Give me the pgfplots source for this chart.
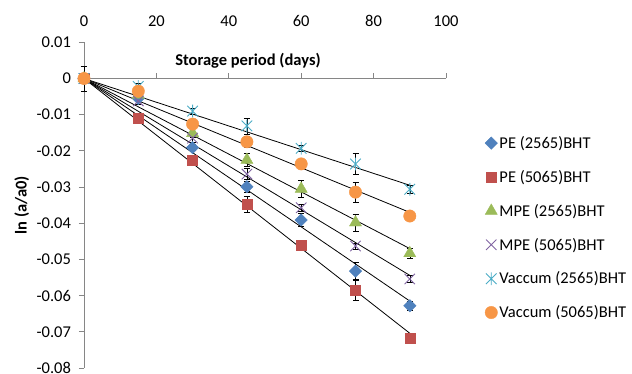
\documentclass[border=0pt]{standalone}
\usepackage{pgfplots}
\pgfplotsset{compat=1.18}
\usepackage{fontspec}
\setmainfont{Carlito}
\definecolor{cblue}{HTML}{4F81BD}
\definecolor{cred}{HTML}{C0504D}
\definecolor{cgreen}{HTML}{9BBB59}
\definecolor{cpurple}{HTML}{8064A2}
\definecolor{caqua}{HTML}{4BACC6}
\definecolor{corange}{HTML}{F79646}
\definecolor{axgray}{HTML}{868686}
\pgfdeclareplotmark{xstar}{%
 \pgfpathmoveto{\pgfqpoint{-\pgfplotmarksize}{-\pgfplotmarksize}}%
 \pgfpathlineto{\pgfqpoint{\pgfplotmarksize}{\pgfplotmarksize}}%
 \pgfpathmoveto{\pgfqpoint{-\pgfplotmarksize}{\pgfplotmarksize}}%
 \pgfpathlineto{\pgfqpoint{\pgfplotmarksize}{-\pgfplotmarksize}}%
 \pgfpathmoveto{\pgfqpoint{0pt}{-1.2\pgfplotmarksize}}%
 \pgfpathlineto{\pgfqpoint{0pt}{1.2\pgfplotmarksize}}%
 \pgfusepathqstroke}
\pgfdeclareplotmark{bigx}{%
 \pgfpathmoveto{\pgfqpoint{-\pgfplotmarksize}{-\pgfplotmarksize}}%
 \pgfpathlineto{\pgfqpoint{\pgfplotmarksize}{\pgfplotmarksize}}%
 \pgfpathmoveto{\pgfqpoint{-\pgfplotmarksize}{\pgfplotmarksize}}%
 \pgfpathlineto{\pgfqpoint{\pgfplotmarksize}{-\pgfplotmarksize}}%
 \pgfusepathqstroke}

\pgfplotstableread{
x y e
0 0 0.0035
15 -0.0055 0
30 -0.0191 0.0008
45 -0.0299 0.0015
60 -0.0391 0.0018
75 -0.0532 0.0025
90 -0.0628 0.0013
}\peA
\pgfplotstableread{
x y e
0 0 0
15 -0.0110 0.0008
30 -0.0227 0.0008
45 -0.0348 0.0022
60 -0.0460 0.0005
75 -0.0584 0.0028
90 -0.0718 0.0012
}\peB
\pgfplotstableread{
x y e
0 0 0
15 -0.0045 0
30 -0.0151 0.0012
45 -0.0225 0.0018
60 -0.0305 0.0023
75 -0.0398 0.0023
90 -0.0483 0.0015
}\mpeA
\pgfplotstableread{
x y e
0 0 0
15 -0.0062 0.0008
30 -0.0165 0.0010
45 -0.0264 0.0015
60 -0.0357 0.0010
75 -0.0463 0.0008
90 -0.0554 0.0010
}\mpeB
\pgfplotstableread{
x y e
0 0 0
15 -0.0022 0.0010
30 -0.0090 0.0008
45 -0.0131 0.0022
60 -0.0193 0.0008
75 -0.0236 0.0028
90 -0.0306 0.0012
}\vacA
\pgfplotstableread{
x y e
0 0 0
15 -0.0035 0.0010
30 -0.0126 0.0010
45 -0.0175 0.0015
60 -0.0236 0.0008
75 -0.0314 0.0028
90 -0.0380 0.0008
}\vacB

\begin{document}
\begin{tikzpicture}[font=\fontsize{16.5}{19}\selectfont]
\begin{axis}[
  scale only axis,
  width=362pt, height=325.7pt,
  xmin=0, xmax=100, ymin=-0.08, ymax=0.01,
  scaled y ticks=false, scaled x ticks=false,
  axis x line*=top, axis y line*=left,
  x axis line style={draw=none},
  y axis line style={axgray, line width=0.8pt, -},
  xtick={0,20,40,60,80,100},
  xticklabels={0,20,40,60,80,100},
  xtick style={draw=none},
  xticklabel style={anchor=base, yshift=10.5pt},
  ytick={-0.08,-0.07,-0.06,-0.05,-0.04,-0.03,-0.02,-0.01,0,0.01},
  yticklabels={-0.08,-0.07,-0.06,-0.05,-0.04,-0.03,-0.02,-0.01,0,0.01},
  ytick style={axgray, line width=0.8pt},
  tick align=outside, major tick length=5pt,
  yticklabel style={xshift=-4.5pt},
  xlabel={\bfseries Storage period (days)},
  xlabel style={at={(axis description cs:0.453,0.943)}, anchor=center},
  ylabel={\bfseries ln (a/a0)},
  ylabel style={at={(axis description cs:-0.172,0.5)}, anchor=center},
  clip=false,
  legend style={draw=none, fill=none, at={(axis description cs:1.099,0.724)}, anchor=north west, row sep=16.3pt, font=\fontsize{16.5}{19}\selectfont},
  legend cell align=left,
  mymarks/.style={only marks, legend image code/.code={\draw[mark repeat=2,mark phase=2] plot coordinates {(0pt,0pt) (5pt,0pt) (10pt,0pt)};}},
  eb/.style={error bars/.cd, y dir=both, y explicit, error bar style={black, line width=0.6pt}, error mark options={black, rotate=90, mark size=3pt, line width=0.6pt}},
]
\addplot[mymarks, mark=square*, mark size=4.4pt, mark options={rotate=45, draw=cblue, fill=cblue}, eb] table[x=x, y=y, y error=e] {\peA};
\addlegendentry{PE (2565)BHT}
\addplot[mymarks, mark=square*, mark size=5pt, mark options={draw=cred, fill=cred}, eb] table[x=x, y=y, y error=e] {\peB};
\addlegendentry{PE (5065)BHT}
\addplot[mymarks, mark=triangle*, mark size=7pt, mark options={draw=cgreen, fill=cgreen}, eb] table[x=x, y=y, y error=e] {\mpeA};
\addlegendentry{MPE (2565)BHT}
\addplot[mymarks, mark=bigx, mark size=5.2pt, mark options={draw=cpurple, line width=0.9pt}, eb] table[x=x, y=y, y error=e] {\mpeB};
\addlegendentry{MPE (5065)BHT}
\addplot[mymarks, mark=xstar, mark size=5.3pt, mark options={draw=caqua, line width=0.9pt}, eb] table[x=x, y=y, y error=e] {\vacA};
\addlegendentry{Vaccum (2565)BHT}
\addplot[mymarks, mark=*, mark size=6.2pt, mark options={draw=corange, fill=corange}, eb] table[x=x, y=y, y error=e] {\vacB};
\addlegendentry{Vaccum (5065)BHT}
% linear trend lines through the origin
\addplot[black, line width=0.8pt, forget plot] coordinates {(0,0) (90,-0.0615)};
\addplot[black, line width=0.8pt, forget plot] coordinates {(0,0) (90,-0.0704)};
\addplot[black, line width=0.8pt, forget plot] coordinates {(0,0) (90,-0.0470)};
\addplot[black, line width=0.8pt, forget plot] coordinates {(0,0) (90,-0.0544)};
\addplot[black, line width=0.8pt, forget plot] coordinates {(0,0) (90,-0.0295)};
\addplot[black, line width=0.8pt, forget plot] coordinates {(0,0) (90,-0.0370)};
% horizontal axis line at y = 0 with upward ticks
\draw[axgray, line width=0.8pt] (axis cs:0,0) -- (axis cs:100,0);
\pgfplotsinvokeforeach{20,40,60,80,100}{\draw[axgray, line width=0.8pt] (axis cs:#1,0) -- ++(0pt,5pt);}
\end{axis}
\pgfresetboundingbox
\path[use as bounding box] (-84pt,-5pt) rectangle (548pt,368pt);
\end{tikzpicture}
\end{document}
